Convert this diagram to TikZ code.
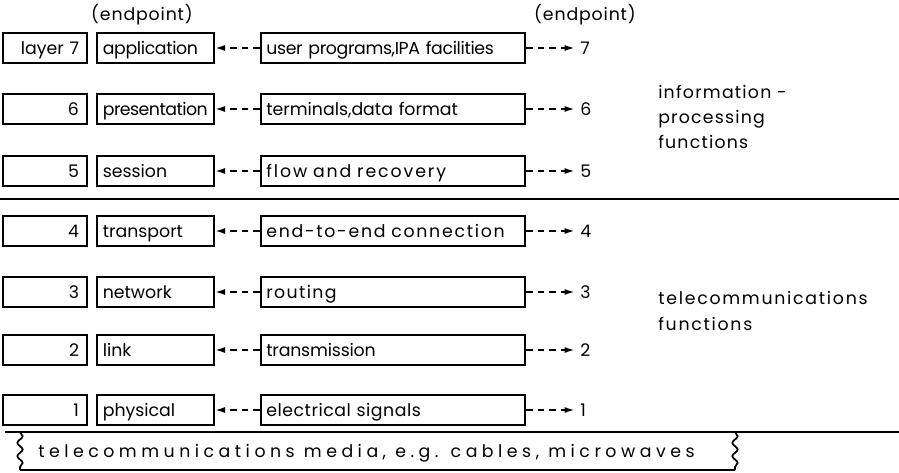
\documentclass[tikz,border=0pt]{standalone}
\usepackage{fontspec}
\setmainfont{Poppins}
\usetikzlibrary{arrows.meta,decorations.pathmorphing}
% letter-spaced text: \spaced{amount}{text}
\newcommand\spaced[2]{{\addfontfeature{LetterSpace=#1}#2}}
\begin{document}
\begin{tikzpicture}[x=0.75pt,y=-0.75pt,
  font=\fontsize{13pt}{16pt}\selectfont,
  every node/.style={inner sep=0pt},
  frame/.style={draw, line width=1.5pt, minimum height=23pt,
    text height=12pt, text depth=2.5pt},
  numbox/.style={frame, minimum width=63pt, text width=51pt, align=right},
  layerbox/.style={frame, minimum width=87.75pt, text width=79pt, align=left},
  rolebox/.style={frame, minimum width=198pt, text width=190pt, align=left},
  endnum/.style={anchor=west},
  caption/.style={anchor=west, align=left,
    font=\fontsize{13pt}{19pt}\selectfont},
  dasharrow/.style={line width=1.3pt, dash pattern=on 5pt off 3.8pt,
    -{Latex[length=7.5pt,width=4.5pt]}},
  rule/.style={line width=1.5pt},
  wavy/.style={line width=1.3pt, decorate,
    decoration={snake, segment length=10pt, amplitude=2pt}}
]
\useasboundingbox (0,0) rectangle (899,473);

% endpoint captions
\node (epl) at (142,15) {\spaced{5}{(endpoint)}};
\node (epr) at (585,15) {\spaced{5}{(endpoint)}};

% the seven layers
\foreach \n/\lbl/\layer/\role/\y in {
    7/{layer 7}/{\spaced{-2}{application}}/{\spaced{-2}{user programs,IPA facilities}}/48,
    6/6/{\spaced{-3}{presentation}}/{\spaced{0}{terminals,data format}}/109,
    5/5/session/{\spaced{11}{flow and recovery}}/171,
    4/4/transport/{\spaced{10}{end-to-end connection}}/231,
    3/3/network/{\spaced{8}{routing}}/292,
    2/2/link/{\spaced{-1}{transmission}}/350,
    1/1/physical/{\spaced{3}{electrical signals}}/410}
{
  \node[numbox]   (n\n) at (45,\y)    {\lbl};
  \node[layerbox] (l\n) at (155.5,\y) {\layer};
  \node[rolebox]  (r\n) at (393,\y)   {\role};
  \node[endnum]   (e\n) at (580,\y)   {\n};
  \draw[dasharrow] (r\n.west) -- (l\n.east);
  \draw[dasharrow, shorten >=4pt] (r\n.east) -- (e\n.west);
}

% dividing rule between the two groups
\draw[rule] (0,199) -- (899,199);

% group captions
\node[caption] (info) at (658,117)
  {\spaced{7}{information -}\\\spaced{7}{processing}\\\spaced{7}{functions}};
\node[caption] (tele) at (658,311)
  {\spaced{10}{telecommunications}\\\spaced{10}{functions}};

% transmission media
\draw[rule] (5,432) -- (899,432);
\draw[rule] (20,470) -- (735,470);
\draw[wavy] (20,432) -- (20,470);
\draw[wavy] (735,432) -- (735,470);
\node[anchor=west] (media) at (38,453)
  {\spaced{26}{telecommunications media, e.g. cables, microwaves}};
\end{tikzpicture}
\end{document}
